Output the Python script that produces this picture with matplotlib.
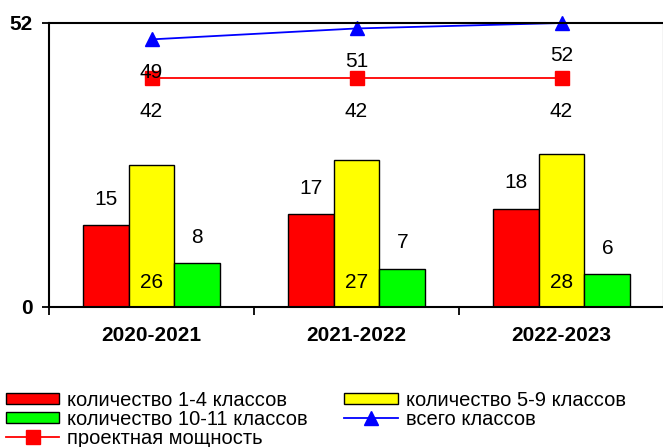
import matplotlib.pyplot as plt
import numpy as np

plt.rcParams['font.family'] = ['Liberation Sans', 'DejaVu Sans']

years = ['2020-2021', '2021-2022', '2022-2023']
grades_1_4 = [15, 17, 18]
grades_5_9 = [26, 27, 28]
grades_10_11 = [8, 7, 6]
total_classes = [49, 51, 52]
design_capacity = [42, 42, 42]

fig = plt.figure(figsize=(6.63, 4.47), dpi=100)
ax = fig.add_axes([49 / 663, 140 / 447, 615 / 663, 284 / 447])

x = np.arange(len(years))
w = 0.224

b1 = ax.bar(x - w, grades_1_4, w, color='#ff0000', edgecolor='black', linewidth=1,
            label='количество 1-4 классов')
b2 = ax.bar(x, grades_5_9, w, color='#ffff00', edgecolor='black', linewidth=1,
            label='количество 5-9 классов')
b3 = ax.bar(x + w, grades_10_11, w, color='#00ff00', edgecolor='black', linewidth=1,
            label='количество 10-11 классов')
l1, = ax.plot(x, total_classes, color='#0000ff', lw=1.3, marker='^', markersize=10,
              label='всего классов', clip_on=False)
l2, = ax.plot(x, design_capacity, color='#ff0000', lw=1.3, marker='s', markersize=10,
              label='проектная мощность')

# data labels
fs = 15
for xi, v in zip(x - w, grades_1_4):
    ax.annotate(str(v), (xi, v), xytext=(0, 26), textcoords='offset pixels',
                ha='center', va='center', fontsize=fs)
for xi, v in zip(x, grades_5_9):
    ax.annotate(str(v), (xi, 0), xytext=(0, 24), textcoords='offset pixels',
                ha='center', va='center', fontsize=fs)
for xi, v in zip(x + w, grades_10_11):
    ax.annotate(str(v), (xi, v), xytext=(0, 26), textcoords='offset pixels',
                ha='center', va='center', fontsize=fs)
for xi, v in zip(x, total_classes):
    ax.annotate(str(v), (xi, v), xytext=(0, -33), textcoords='offset pixels',
                ha='center', va='center', fontsize=fs)
for xi, v in zip(x, design_capacity):
    ax.annotate(str(v), (xi, v), xytext=(0, -34), textcoords='offset pixels',
                ha='center', va='center', fontsize=fs)

ax.set_xlim(-0.5, 2.5)
ax.set_ylim(0, 52)
ax.set_yticks([0, 52])
ax.set_yticklabels(['0', '52'], fontweight='bold', fontsize=15)
ax.set_xticks(x)
ax.set_xticklabels(years, fontweight='bold', fontsize=15)
ax.tick_params(axis='x', length=0, pad=14)
ax.set_xticks([-0.5, 0.5, 1.5, 2.5], minor=True)
ax.tick_params(axis='x', which='minor', length=6, width=1.3, direction='out')
ax.tick_params(axis='y', length=5, width=1.3, direction='out', pad=7)
for s in ['left', 'top', 'bottom', 'right']:
    ax.spines[s].set_linewidth(1.5)

handles = [b1, b3, l2, b2, l1]
labels = [h.get_label() for h in handles]
fig.legend(handles, labels, ncol=2, loc='lower left',
           bbox_to_anchor=(0, -0.015), bbox_transform=fig.transFigure,
           frameon=False, fontsize=14.5, handlelength=2.65, handleheight=0.5,
           handletextpad=0.4, labelspacing=0.0, columnspacing=1.8,
           borderpad=0.1, borderaxespad=0.2)

fig.savefig('out.png', dpi=100)
